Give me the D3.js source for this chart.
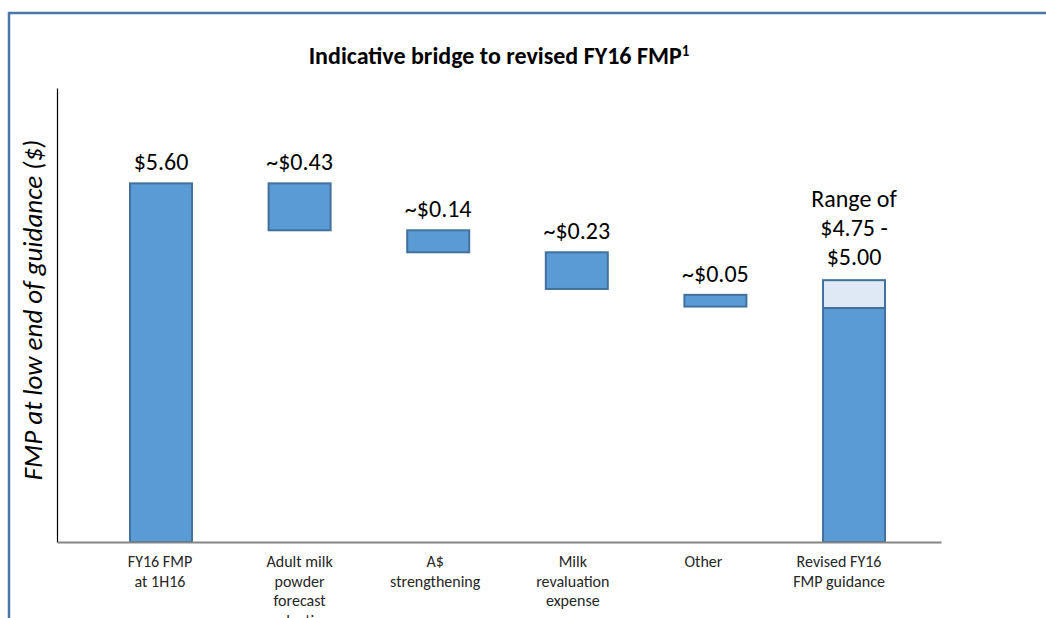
<!DOCTYPE html>
<html lang="en">
<head>
<meta charset="UTF-8">
<title>Indicative bridge to revised FY16 FMP</title>
<script src="https://cdnjs.cloudflare.com/ajax/libs/d3/7.8.5/d3.min.js"></script>
<style>
    body { margin: 0; background: #fff; overflow: hidden; }
    svg { display: block; font-family: Carlito, Calibri, "Open Sans", sans-serif; }
</style>
</head>
<body>
<svg id="chart" width="1046" height="618"></svg>
<script>
// categories (multi-line labels)
const categories = [
    ["FY16 FMP", "at 1H16"],
    ["Adult milk", "powder", "forecast", "reduction"],
    ["A$", "strengthening"],
    ["Milk", "revaluation", "expense"],
    ["Other"],
    ["Revised FY16", "FMP guidance"]
];
// bar extents in $ (axis is truncated, floor ~3.155)
const yFloor = 3.155;
const yCeil = 6.25;
const barTop    = [5.60, 5.60, 5.28, 5.13, 4.84, 4.75];
const barBottom = [yFloor, 5.28, 5.13, 4.88, 4.76, yFloor];
// light range block on the revised bar
const rangeLow = 4.75, rangeHigh = 4.94;
const valueLabels = [["$5.60"], ["~$0.43"], ["~$0.14"], ["~$0.23"], ["~$0.05"], ["Range of", "$4.75 -", "$5.00"]];

const svg = d3.select("#chart");

// outer frame
svg.append("rect")
    .attr("x", 9).attr("y", 13)
    .attr("width", 1100).attr("height", 700)
    .attr("fill", "none")
    .attr("stroke", "#4a76a8")
    .attr("stroke-width", 2.5);

// title
const title = svg.append("text")
    .attr("x", 499).attr("y", 64)
    .attr("text-anchor", "middle")
    .attr("font-size", 24)
    .attr("font-weight", "bold")
    .attr("fill", "#000");
title.append("tspan").text("Indicative bridge to revised FY16 FMP");
title.append("tspan").attr("dy", -8).attr("font-size", 15).text("1");

// scales
const keys = categories.map((c, i) => i);
const x = d3.scalePoint().domain(keys).range([161, 854]);
const y = d3.scaleLinear().domain([yFloor, yCeil]).range([542, 88]);
const xAxisScale = d3.scaleLinear().domain([0, 1]).range([57, 941]);
const barW = 62;
// the category text sits a little left of the bars in the original slide
const labelDx = [-1, 0, -3, -4, -12, -15];

// bars
svg.append("g")
    .selectAll("rect")
    .data(keys)
    .join("rect")
    .attr("x", i => x(i) - barW / 2)
    .attr("y", i => y(barTop[i]))
    .attr("width", barW)
    .attr("height", i => y(barBottom[i]) - y(barTop[i]))
    .attr("fill", "#5b9bd5")
    .attr("stroke", "#41719c")
    .attr("stroke-width", 2);

// light "range" block on revised bar
svg.append("rect")
    .attr("x", x(5) - barW / 2)
    .attr("y", y(rangeHigh))
    .attr("width", barW)
    .attr("height", y(rangeLow) - y(rangeHigh))
    .attr("fill", "#dfe9f5")
    .attr("stroke", "#41719c")
    .attr("stroke-width", 2);

// axes
svg.append("g")
    .attr("transform", "translate(57,0)")
    .call(d3.axisLeft(y).ticks(0).tickSizeOuter(0))
    .call(g => g.select(".domain").attr("stroke", "#000").attr("stroke-width", 1.2));

svg.append("g")
    .attr("transform", `translate(0,${y(yFloor)})`)
    .call(d3.axisBottom(xAxisScale).ticks(0).tickSizeOuter(0))
    .call(g => g.select(".domain").attr("stroke", "#868686").attr("stroke-width", 2));

// value labels
svg.append("g")
    .selectAll("text")
    .data(keys)
    .join("text")
    .attr("text-anchor", "middle")
    .attr("font-size", 24)
    .attr("fill", "#000")
    .each(function (i) {
        const lines = valueLabels[i];
        const top = i === 5 ? y(rangeHigh) - 2 : y(barTop[i]);
        const t = d3.select(this);
        lines.forEach((s, k) => {
            t.append("tspan")
                .attr("x", x(i))
                .attr("y", top - 13 - (lines.length - 1 - k) * 29)
                .text(s);
        });
    });

// category labels
svg.append("g")
    .selectAll("text")
    .data(keys)
    .join("text")
    .attr("text-anchor", "middle")
    .attr("font-size", 16)
    .attr("fill", "#262626")
    .each(function (i) {
        const t = d3.select(this);
        categories[i].forEach((s, k) => {
            t.append("tspan")
                .attr("x", x(i) + labelDx[i])
                .attr("y", 567 + k * 19.5)
                .text(s);
        });
    });

// y axis title
svg.append("text")
    .attr("transform", "translate(42,310) rotate(-90)")
    .attr("text-anchor", "middle")
    .attr("font-size", 27)
    .attr("font-style", "italic")
    .attr("fill", "#000")
    .text("FMP at low end of guidance ($)");
</script>
</body>
</html>
